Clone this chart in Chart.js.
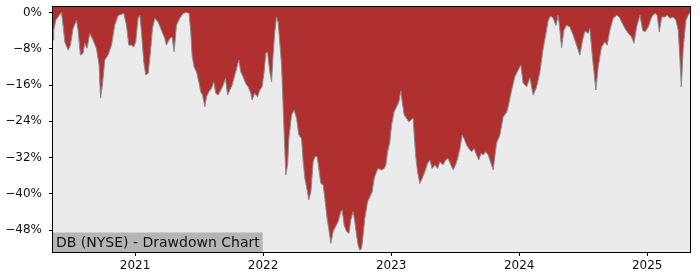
<!DOCTYPE html>
<html>
<head>
<meta charset="utf-8">
<script src="https://cdn.jsdelivr.net/npm/chart.js@4.4.1/dist/chart.umd.min.js"></script>
<style>
    html, body { margin: 0; padding: 0; background: #ffffff; }
    #wrap { width: 700px; height: 280px; }
</style>
</head>
<body>
<div id="wrap"><canvas id="drawdownChart" width="700" height="280"></canvas></div>
<script>
// dates as decimal years, drawdown in %
var dates = [
    2020.359, 2020.365, 2020.380, 2020.398, 2020.425, 2020.438, 2020.451, 2020.477, 2020.495, 2020.516,
    2020.542, 2020.555, 2020.573, 2020.594, 2020.607, 2020.625, 2020.646, 2020.672, 2020.698, 2020.719,
    2020.730, 2020.745, 2020.763, 2020.789, 2020.816, 2020.841, 2020.867, 2020.894, 2020.912, 2020.933,
    2020.951, 2020.972, 2020.990, 2021.005, 2021.023, 2021.037, 2021.050, 2021.068, 2021.084, 2021.102,
    2021.120, 2021.136, 2021.154, 2021.180, 2021.206, 2021.232, 2021.245, 2021.271, 2021.289, 2021.305,
    2021.323, 2021.349, 2021.375, 2021.402, 2021.422, 2021.435, 2021.445, 2021.461, 2021.480, 2021.498,
    2021.513, 2021.527, 2021.545, 2021.558, 2021.576, 2021.597, 2021.615, 2021.630, 2021.648, 2021.670,
    2021.688, 2021.706, 2021.722, 2021.740, 2021.758, 2021.779, 2021.800, 2021.810, 2021.826, 2021.844,
    2021.863, 2021.883, 2021.904, 2021.914, 2021.935, 2021.956, 2021.974, 2021.992, 2022.008, 2022.021,
    2022.034, 2022.052, 2022.066, 2022.078, 2022.091, 2022.105, 2022.117, 2022.130, 2022.144, 2022.156,
    2022.170, 2022.177, 2022.191, 2022.201, 2022.222, 2022.242, 2022.261, 2022.279, 2022.300, 2022.313,
    2022.326, 2022.339, 2022.357, 2022.373, 2022.391, 2022.404, 2022.422, 2022.435, 2022.451, 2022.469,
    2022.482, 2022.500, 2022.516, 2022.529, 2022.547, 2022.566, 2022.586, 2022.607, 2022.617, 2022.633,
    2022.652, 2022.670, 2022.685, 2022.703, 2022.716, 2022.730, 2022.742, 2022.755, 2022.769, 2022.781,
    2022.794, 2022.816, 2022.834, 2022.852, 2022.867, 2022.886, 2022.898, 2022.925, 2022.945, 2022.959,
    2022.972, 2022.990, 2023.003, 2023.023, 2023.042, 2023.060, 2023.076, 2023.086, 2023.102, 2023.120,
    2023.138, 2023.154, 2023.172, 2023.180, 2023.191, 2023.206, 2023.224, 2023.242, 2023.263, 2023.284,
    2023.302, 2023.320, 2023.341, 2023.363, 2023.380, 2023.406, 2023.425, 2023.445, 2023.466, 2023.484,
    2023.503, 2023.519, 2023.537, 2023.555, 2023.570, 2023.589, 2023.607, 2023.628, 2023.648, 2023.667,
    2023.685, 2023.701, 2023.719, 2023.738, 2023.758, 2023.771, 2023.797, 2023.823, 2023.849, 2023.875,
    2023.902, 2023.914, 2023.941, 2023.966, 2023.992, 2024.013, 2024.031, 2024.058, 2024.084, 2024.109,
    2024.136, 2024.162, 2024.188, 2024.209, 2024.227, 2024.245, 2024.266, 2024.287, 2024.305, 2024.318,
    2024.331, 2024.349, 2024.370, 2024.396, 2024.422, 2024.448, 2024.474, 2024.495, 2024.513, 2024.539,
    2024.552, 2024.573, 2024.599, 2024.617, 2024.643, 2024.669, 2024.687, 2024.708, 2024.734, 2024.761,
    2024.781, 2024.800, 2024.826, 2024.852, 2024.878, 2024.896, 2024.917, 2024.943, 2024.964, 2024.982,
    2025.008, 2025.034, 2025.060, 2025.078, 2025.094, 2025.113, 2025.138, 2025.156, 2025.177, 2025.203,
    2025.224, 2025.242, 2025.255, 2025.266, 2025.281, 2025.302, 2025.320, 2025.334
];
var drawdown = [
    -6.1, -3.9, -1.7, -1.0, 0.0, -2.8, -6.5, -8.3, -7.2, -3.5,
    -1.7, -3.9, -9.4, -9.0, -6.8, -7.9, -4.6, -6.1, -7.9, -11.6,
    -18.9, -16.0, -10.5, -9.4, -7.2, -2.8, -0.7, -0.4, -0.2, -2.8,
    -7.2, -7.2, -7.6, -6.5, -1.3, -0.6, -4.3, -10.9, -13.8, -13.4,
    -8.7, -3.5, -1.3, -2.1, -3.9, -5.7, -7.2, -5.7, -5.4, -8.7,
    -2.8, -1.3, -0.2, 0.0, -0.2, -4.3, -9.4, -12.0, -13.1, -15.3,
    -17.5, -18.2, -20.8, -18.6, -17.5, -16.7, -15.3, -17.8, -18.2, -17.1,
    -16.0, -14.5, -18.2, -17.1, -16.0, -13.8, -11.6, -10.5, -13.1, -14.2,
    -15.6, -16.4, -17.8, -19.3, -17.8, -18.6, -17.1, -16.4, -13.1, -9.0,
    -8.7, -13.1, -15.3, -9.4, -4.3, -1.0, -2.1, -6.5, -11.6, -20.4,
    -30.7, -35.8, -33.6, -27.8, -22.6, -21.5, -23.3, -27.0, -27.8, -32.9,
    -36.6, -38.4, -41.3, -39.5, -32.9, -31.8, -31.8, -34.4, -37.7, -38.0,
    -41.0, -45.4, -48.3, -50.9, -48.3, -47.2, -46.1, -43.9, -43.5, -46.9,
    -48.3, -48.7, -45.7, -43.9, -46.1, -49.1, -51.3, -52.4, -52.0, -49.1,
    -45.4, -41.7, -40.6, -39.5, -36.6, -35.1, -34.4, -34.7, -34.4, -33.6,
    -30.7, -28.5, -24.8, -21.9, -20.8, -19.7, -17.3, -19.7, -22.6, -23.3,
    -24.1, -23.7, -23.3, -27.0, -31.4, -35.1, -37.7, -36.6, -35.1, -33.3,
    -32.5, -34.4, -33.6, -34.4, -32.9, -33.6, -32.5, -32.2, -33.6, -34.7,
    -33.6, -32.2, -30.0, -27.0, -27.8, -29.2, -30.0, -30.7, -30.0, -31.4,
    -32.5, -31.1, -31.4, -30.7, -31.4, -32.5, -34.7, -28.8, -27.0, -23.0,
    -22.0, -20.8, -17.1, -14.2, -12.7, -11.6, -15.6, -16.4, -14.4, -18.2,
    -16.4, -13.1, -7.8, -4.6, -1.7, -0.8, -1.3, -2.9, -0.6, -3.9,
    -7.8, -3.9, -2.8, -3.2, -5.0, -7.2, -9.4, -6.1, -4.1, -4.6,
    -3.5, -10.1, -17.1, -12.0, -7.6, -6.5, -7.2, -3.9, -1.3, -0.6,
    -1.0, -2.1, -3.5, -4.6, -5.4, -6.8, -3.2, -0.6, -3.9, -4.3,
    -3.2, -1.0, -0.2, -0.6, -4.3, -1.0, -1.0, -0.6, -1.3, -1.0,
    -1.7, -3.9, -10.1, -16.4, -7.9, -1.7, -0.6, 0.0
];
var xTicks = [2021, 2022, 2023, 2024, 2025];
var yTicks = [0, -8, -16, -24, -32, -40, -48];
var chartLabel = "DB (NYSE) - Drawdown Chart";

var tickFont = { family: "'DejaVu Sans', sans-serif", size: 12 };

// plot background + frame + label box
var framePlugin = {
    id: 'frame',
    beforeDatasetsDraw: function (chart) {
        var a = chart.chartArea, ctx = chart.ctx;
        ctx.save();
        ctx.fillStyle = '#ebebeb';
        ctx.fillRect(a.left, a.top, a.right - a.left, a.bottom - a.top);
        ctx.restore();
    },
    afterDraw: function (chart) {
        var a = chart.chartArea, ctx = chart.ctx;
        ctx.save();
        ctx.font = "14px 'DejaVu Sans', sans-serif";
        var w = ctx.measureText(chartLabel).width;
        ctx.fillStyle = '#b5b5b5';
        ctx.fillRect(a.left, a.bottom - 19.5, w + 6, 19.5);
        ctx.fillStyle = '#111111';
        ctx.textBaseline = 'alphabetic';
        ctx.fillText(chartLabel, a.left + 3, a.bottom - 5.5);
        ctx.strokeStyle = '#000000';
        ctx.lineWidth = 1;
        ctx.strokeRect(a.left - 0.5, a.top - 0.5, a.right - a.left + 1, a.bottom - a.top + 1);
        ctx.restore();
    }
};

var points = dates.map(function (d, i) {
    return { x: d, y: drawdown[i] };
});

function noScalePadding(scale) {
    scale.paddingTop = 0;
    scale.paddingBottom = 0;
    scale.paddingLeft = 0;
    scale.paddingRight = 0;
}

var ctx = document.getElementById('drawdownChart').getContext('2d');
var drawdownChart = new Chart(ctx, {
    type: 'line',
    data: {
        datasets: [{
            data: points,
            fill: 'end',
            backgroundColor: '#b03030',
            borderColor: '#8a8a8a',
            borderWidth: 1,
            pointRadius: 0,
            tension: 0
        }]
    },
    options: {
        responsive: false,
        animation: false,
        layout: {
            padding: { top: 7, right: 10, left: 0, bottom: 0 }
        },
        plugins: {
            legend: { display: false },
            tooltip: { enabled: false }
        },
        scales: {
            x: {
                type: 'linear',
                min: 2020.359,
                max: 2025.334,
                afterBuildTicks: function (scale) {
                    scale.ticks = xTicks.map(function (v) { return { value: v }; });
                },
                afterFit: function (scale) {
                    scale.height = 28;
                    noScalePadding(scale);
                },
                grid: { drawOnChartArea: false, tickLength: 4, tickColor: '#000', tickWidth: 1 },
                border: { display: false },
                ticks: {
                    font: tickFont,
                    color: '#111',
                    padding: 3,
                    maxRotation: 0,
                    callback: function (v) { return String(v); }
                }
            },
            y: {
                min: -52.8,
                max: 1.2,
                afterBuildTicks: function (scale) {
                    scale.ticks = yTicks.map(function (v) { return { value: v }; });
                },
                afterFit: function (scale) {
                    scale.width = 53;
                    noScalePadding(scale);
                },
                grid: { drawOnChartArea: false, tickLength: 4, tickColor: '#000', tickWidth: 1 },
                border: { display: false },
                ticks: {
                    font: tickFont,
                    color: '#111',
                    padding: 7,
                    callback: function (v) {
                        return (v < 0 ? '\u2212' + Math.abs(v) : v) + '%';
                    }
                }
            }
        }
    },
    plugins: [framePlugin]
});
</script>
</body>
</html>
